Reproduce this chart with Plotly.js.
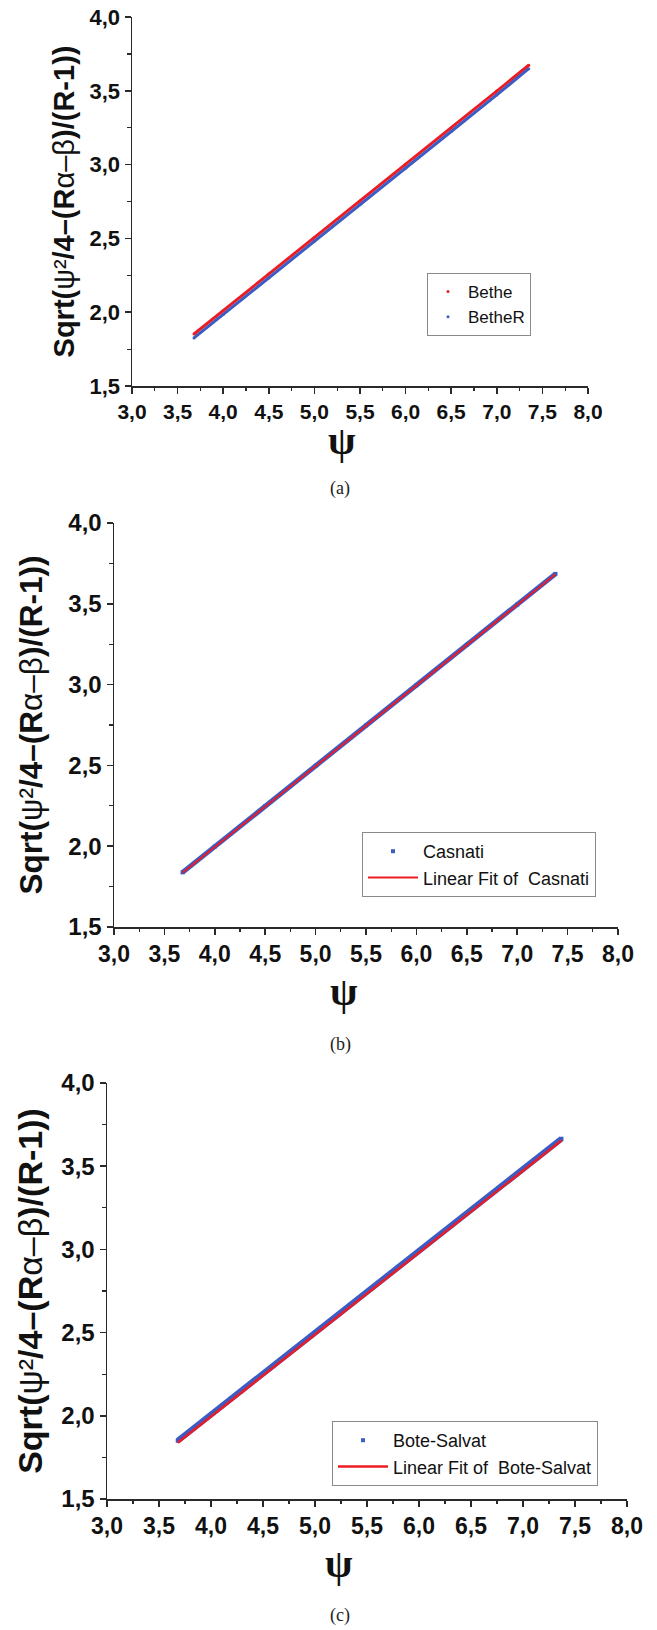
<!DOCTYPE html>
<html>
<head>
<meta charset="utf-8">
<script src="https://cdn.plot.ly/plotly-3.0.1.min.js"></script>
<style>
  html, body { margin: 0; padding: 0; background: #ffffff; }
  #chart { width: 657px; height: 1630px; }
</style>
</head>
<body>
<div id="chart"></div>
<script>
// ---------------- Data ----------------
// Panel (a)
const psiA      = [3.68, 4.0, 4.5, 5.0, 5.5, 6.0, 6.5, 7.0, 7.35];
const betheA    = [1.852, 2.010, 2.258, 2.506, 2.754, 3.002, 3.250, 3.498, 3.673];
const betheRA   = [1.826, 1.984, 2.232, 2.480, 2.728, 2.976, 3.224, 3.472, 3.650];

// Panel (b)
const psiB      = [3.68, 4.0, 4.5, 5.0, 5.5, 6.0, 6.5, 7.0, 7.38];
const casnatiB  = [1.838, 1.998, 2.248, 2.497, 2.747, 2.996, 3.246, 3.495, 3.685];
const fitPsiB   = [3.68, 7.38];
const fitB      = [1.836, 3.683];

// Panel (c)
const psiC      = [3.68, 4.0, 4.5, 5.0, 5.5, 6.0, 6.5, 7.0, 7.37];
const boteC     = [1.850, 2.007, 2.253, 2.499, 2.745, 2.991, 3.237, 3.483, 3.665];
const fitPsiC   = [3.68, 7.37];
const fitC      = [1.838, 3.655];

// Labels
const seriesNames = {
  a: ["Bethe", "BetheR"],
  b: ["Casnati", "Linear Fit of\u00A0 Casnati"],
  c: ["Bote-Salvat", "Linear Fit of\u00A0 Bote-Salvat"]
};
const captions = ["(a)", "(b)", "(c)"];
const xTitle = "\u03C8";
const yTitle = "<b>Sqrt(</b>\u03C8\u00B2<b>/4\u2013(R</b>\u03B1\u2013\u03B2<b>)/(R-1))</b>";

// ---------------- Styling ----------------
const RED = "#ec1c24";
const BLUE = "#3a5cc4";
const AX = "#2a2a2a";
const W = 657, H = 1630;
const sans = "Liberation Sans, Arial, Helvetica, sans-serif";
const serif = "Liberation Serif, Times New Roman, serif";

function px2x(p) { return p / W; }
function px2y(p) { return 1 - p / H; }

function xAxis(domainPx, anchor, fsize) {
  return {
    domain: [px2x(domainPx[0]), px2x(domainPx[1])],
    anchor: anchor,
    range: [3, 8], tick0: 3, dtick: 0.5, tickformat: ".1f",
    showgrid: false, zeroline: false, showline: true,
    linecolor: AX, linewidth: 1.5,
    ticks: "outside", ticklen: 6, tickwidth: 1.5, tickcolor: AX,
    minor: { ticks: "outside", ticklen: 3.5, tickwidth: 1.2, tickcolor: AX, dtick: 0.25, tick0: 3, showgrid: false },
    tickfont: { family: sans, size: fsize, weight: "bold", color: "#111" },
    fixedrange: true
  };
}
function yAxis(domainPx, anchor, fsize, tsize, standoff) {
  return {
    domain: [px2y(domainPx[1]), px2y(domainPx[0])],
    anchor: anchor,
    range: [1.5, 4], tick0: 1.5, dtick: 0.5, tickformat: ".1f",
    showgrid: false, zeroline: false, showline: true,
    linecolor: AX, linewidth: 1.5,
    ticks: "outside", ticklen: 6, tickwidth: 1.5, tickcolor: AX,
    minor: { ticks: "outside", ticklen: 3.5, tickwidth: 1.2, tickcolor: AX, dtick: 0.25, tick0: 1.5, showgrid: false },
    tickfont: { family: sans, size: fsize, weight: "bold", color: "#111" },
    title: { text: yTitle, font: { family: sans, size: tsize, color: "#111" }, standoff: standoff },
    fixedrange: true
  };
}

// ---------------- Traces ----------------
const traces = [
  // Panel (a)
  { x: psiA, y: betheA, xaxis: "x", yaxis: "y", mode: "lines", line: { color: RED, width: 3 }, showlegend: false, hoverinfo: "skip" },
  { x: psiA, y: betheRA, xaxis: "x", yaxis: "y", mode: "lines", line: { color: BLUE, width: 3 }, showlegend: false, hoverinfo: "skip" },
  { x: psiA, y: betheA, xaxis: "x", yaxis: "y", mode: "markers", name: seriesNames.a[0], marker: { color: RED, size: 3 }, legend: "legend" },
  { x: psiA, y: betheRA, xaxis: "x", yaxis: "y", mode: "markers", name: seriesNames.a[1], marker: { color: BLUE, size: 3 }, legend: "legend" },

  // Panel (b)
  { x: psiB, y: casnatiB, xaxis: "x2", yaxis: "y2", mode: "lines", line: { color: BLUE, width: 5 }, showlegend: false, hoverinfo: "skip" },
  { x: psiB, y: casnatiB, xaxis: "x2", yaxis: "y2", mode: "markers", name: seriesNames.b[0], marker: { color: BLUE, size: 4, symbol: "square" }, legend: "legend2" },
  { x: fitPsiB, y: fitB, xaxis: "x2", yaxis: "y2", mode: "lines", name: seriesNames.b[1], line: { color: RED, width: 2 }, legend: "legend2" },

  // Panel (c)
  { x: psiC, y: boteC, xaxis: "x3", yaxis: "y3", mode: "lines", line: { color: BLUE, width: 6 }, showlegend: false, hoverinfo: "skip" },
  { x: psiC, y: boteC, xaxis: "x3", yaxis: "y3", mode: "markers", name: seriesNames.c[0], marker: { color: BLUE, size: 4, symbol: "square" }, legend: "legend3" },
  { x: fitPsiC, y: fitC, xaxis: "x3", yaxis: "y3", mode: "lines", name: seriesNames.c[1], line: { color: RED, width: 2.5 }, legend: "legend3" }
];

function legendBox(leftPx, topPx, fsize, itemwidth) {
  return {
    x: px2x(leftPx), y: px2y(topPx), xanchor: "left", yanchor: "top",
    bgcolor: "#ffffff", bordercolor: "#8a8a8a", borderwidth: 1,
    font: { family: sans, size: fsize, color: "#111" },
    tracegroupgap: 0, itemwidth: itemwidth
  };
}

function ann(text, xPx, yPx, font) {
  return { text: text, x: px2x(xPx), y: px2y(yPx), xref: "paper", yref: "paper",
           showarrow: false, xanchor: "center", yanchor: "middle", font: font };
}

const psiFont = { family: serif, size: 40, weight: "bold", color: "#111" };
const capFont = { family: serif, size: 18, color: "#222" };

const layout = {
  width: W, height: H,
  margin: { l: 0, r: 0, t: 0, b: 0 },
  paper_bgcolor: "#ffffff", plot_bgcolor: "#ffffff",
  separators: ",.",
  showlegend: true,
  hovermode: false,
  xaxis:  xAxis([132, 588], "y", 21),
  yaxis:  yAxis([17, 386], "x", 22, 29, 6),
  xaxis2: xAxis([114, 618], "y2", 23),
  yaxis2: yAxis([523, 927], "x2", 24, 31.5, 16),
  xaxis3: xAxis([107, 627], "y3", 23),
  yaxis3: yAxis([1083, 1499], "x3", 24, 34, 8),
  legend:  legendBox(427, 273, 17, 30),
  legend2: legendBox(362, 832, 18, 50),
  legend3: legendBox(332, 1421, 18, 50),
  annotations: [
    ann(xTitle, 342, 440, psiFont),
    ann(xTitle, 344, 991, psiFont),
    ann(xTitle, 339, 1563, psiFont),
    ann(captions[0], 340, 488, capFont),
    ann(captions[1], 340, 1044, capFont),
    ann(captions[2], 340, 1615, capFont)
  ]
};

Plotly.newPlot("chart", traces, layout, { displayModeBar: false, staticPlot: true });
</script>
</body>
</html>
